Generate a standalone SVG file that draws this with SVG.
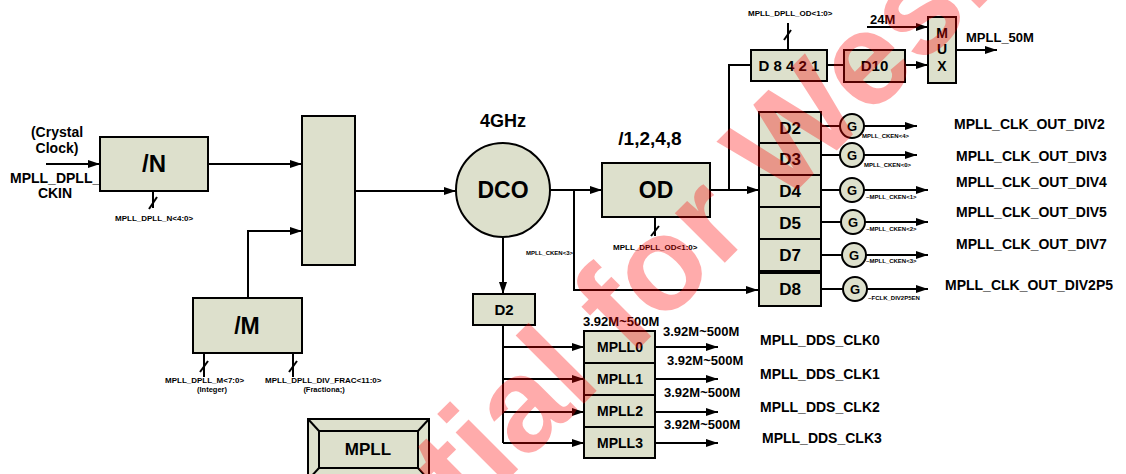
<svg xmlns="http://www.w3.org/2000/svg" width="1126" height="474" viewBox="0 0 1126 474">
<defs>
<marker id="ah" markerUnits="userSpaceOnUse" markerWidth="12" markerHeight="8" refX="12" refY="4" orient="auto">
<path d="M0,0 L12,4 L0,8 z" fill="#000"/>
</marker>
<style>
.bx{fill:#dde0cc;stroke:#000;stroke-width:2}
.ln{fill:none;stroke:#000;stroke-width:2}
.ar{fill:none;stroke:#000;stroke-width:2;marker-end:url(#ah)}
text{font-family:"Liberation Sans",Arial,sans-serif;font-weight:bold;fill:#000}
.c{text-anchor:middle}
.s6{font-size:6px}
.s8{font-size:8px}
.s13{font-size:13px}
.s14{font-size:14px}
.s15{font-size:15px}
.s17{font-size:17px}
.wm{font-size:133px;fill:#ff0000;fill-opacity:0.33}
</style>
</defs>
<rect width="1126" height="474" fill="#fff"/>

<g id="connectors">
<line class="ar" x1="46" y1="164" x2="100" y2="164"/>
<line class="ar" x1="208" y1="164" x2="302" y2="164"/>
<polyline class="ar" points="248,298 248,231 302,231"/>
<line class="ar" x1="355" y1="191" x2="456" y2="191"/>
<line class="ar" x1="550" y1="190" x2="602" y2="190"/>
<polyline class="ar" points="574,190 574,290 758,290"/>
<line class="ar" x1="710" y1="190" x2="759" y2="190"/>
<polyline class="ln" points="729,190 729,65 751,65"/>
<line class="ln" x1="827" y1="65" x2="844" y2="65"/>
<line class="ar" x1="905" y1="65" x2="928" y2="65"/>
<line class="ar" x1="867" y1="27" x2="928" y2="27"/>
<line class="ar" x1="956" y1="50" x2="997" y2="50"/>
<line class="ar" x1="503" y1="238" x2="503" y2="294"/>
<line class="ln" x1="503" y1="325" x2="503" y2="443"/>
<line class="ar" x1="503" y1="347" x2="584" y2="347"/>
<line class="ar" x1="503" y1="379" x2="584" y2="379"/>
<line class="ar" x1="503" y1="412" x2="584" y2="412"/>
<line class="ar" x1="503" y1="443" x2="584" y2="443"/>
<line class="ar" x1="655" y1="347" x2="718" y2="347"/>
<line class="ar" x1="655" y1="379" x2="718" y2="379"/>
<line class="ar" x1="655" y1="412" x2="718" y2="412"/>
<line class="ar" x1="655" y1="443" x2="718" y2="443"/>
<line class="ln" x1="821" y1="126" x2="840" y2="126"/>
<line class="ln" x1="821" y1="155" x2="840" y2="155"/>
<line class="ln" x1="821" y1="190" x2="840" y2="190"/>
<line class="ln" x1="821" y1="222" x2="841" y2="222"/>
<line class="ln" x1="821" y1="255" x2="842" y2="255"/>
<line class="ln" x1="821" y1="289" x2="843" y2="289"/>
<line class="ar" x1="864" y1="126" x2="917" y2="126"/>
<line class="ar" x1="864" y1="155" x2="917" y2="155"/>
<line class="ar" x1="864" y1="190" x2="928" y2="190"/>
<line class="ar" x1="865" y1="222" x2="928" y2="222"/>
<line class="ar" x1="866" y1="255" x2="928" y2="255"/>
<line class="ar" x1="867" y1="289" x2="928" y2="289"/>
<!-- bus ticks -->
<line class="ln" x1="153" y1="191" x2="153" y2="208"/>
<line class="ln" x1="149" y1="209" x2="157" y2="197"/>
<line class="ln" x1="204" y1="353" x2="204" y2="377"/>
<line class="ln" x1="200" y1="372" x2="208" y2="361"/>
<line class="ln" x1="293" y1="353" x2="293" y2="377"/>
<line class="ln" x1="289" y1="372" x2="297" y2="361"/>
<line class="ln" x1="655" y1="217" x2="655" y2="236"/>
<line class="ln" x1="651" y1="236" x2="659" y2="226"/>
<line class="ln" x1="788" y1="23" x2="788" y2="50"/>
<line class="ln" x1="784" y1="40" x2="791" y2="30"/>
</g>

<g id="input-label">
<text class="s14 c" x="57" y="137">(Crystal</text>
<text class="s14 c" x="57" y="153">Clock)</text>
<text class="s14" x="10" y="183">MPLL_DPLL_</text>
<text class="s14 c" x="55" y="198">CKIN</text>
</g>

<g id="divN">
<rect class="bx" x="100" y="137" width="108" height="54"/>
<text class="c" x="154" y="172" font-size="24">/N</text>
<text class="s8" x="115" y="221">MPLL_DPLL_N&lt;4:0&gt;</text>
</g>

<g id="pfd">
<rect class="bx" x="302" y="116" width="53" height="149"/>
</g>

<g id="divM">
<rect class="bx" x="193" y="298" width="109" height="55"/>
<text class="c" x="247" y="334" font-size="23">/M</text>
<text class="s8" x="165" y="383">MPLL_DPLL_M&lt;7:0&gt;</text>
<text class="c" x="212" y="392" font-size="7.5">(Integer)</text>
<text class="s8" x="265" y="383">MPLL_DPLL_DIV_FRAC&lt;11:0&gt;</text>
<text class="c" x="324" y="392" font-size="7.5">(Fractiona;)</text>
</g>

<g id="dco">
<circle class="bx" cx="503" cy="190" r="47"/>
<text class="c" x="503" y="198" font-size="23">DCO</text>
<text class="c" x="503" y="127" font-size="18">4GHz</text>
<text class="s6" x="526" y="255">MPLL_CKEN&lt;3&gt;</text>
</g>

<g id="od">
<rect class="bx" x="602" y="163" width="108" height="54"/>
<text class="c" x="656" y="198" font-size="23">OD</text>
<text class="c" x="650" y="145" font-size="19">/1,2,4,8</text>
<text class="s8" x="613" y="250">MPLL_DPLL_OD&lt;1:0&gt;</text>
</g>

<g id="d8421">
<rect class="bx" x="751" y="50" width="76" height="31"/>
<text class="s15 c" x="789" y="71">D 8 4 2 1</text>
<text class="s8" x="748" y="16">MPLL_DPLL_OD&lt;1:0&gt;</text>
</g>

<g id="d10">
<rect class="bx" x="844" y="50" width="61" height="32"/>
<text class="s15 c" x="874.5" y="71">D10</text>
</g>

<g id="mux">
<rect class="bx" x="928" y="17" width="28" height="66"/>
<text class="s14 c" x="942" y="38">M</text>
<text class="s14 c" x="942" y="54">U</text>
<text class="s14 c" x="942" y="71">X</text>
<text class="s13" x="870" y="24">24M</text>
<text class="s13" x="966" y="42">MPLL_50M</text>
</g>

<g id="div-stack">
<rect class="bx" x="759" y="112" width="62" height="31"/>
<rect class="bx" x="759" y="143" width="62" height="32"/>
<rect class="bx" x="759" y="175" width="62" height="32"/>
<rect class="bx" x="759" y="207" width="62" height="32"/>
<rect class="bx" x="759" y="239" width="62" height="32"/>
<text class="s17 c" x="790" y="134">D2</text>
<text class="s17 c" x="790" y="165">D3</text>
<text class="s17 c" x="790" y="197">D4</text>
<text class="s17 c" x="790" y="229">D5</text>
<text class="s17 c" x="790" y="261">D7</text>
</g>

<g id="d8">
<rect class="bx" x="759" y="273" width="62" height="33"/>
<text class="s17 c" x="790" y="295">D8</text>
</g>

<g id="gates">
<circle class="bx" cx="852" cy="126" r="12"/>
<circle class="bx" cx="852" cy="155" r="12"/>
<circle class="bx" cx="852" cy="190" r="12"/>
<circle class="bx" cx="853" cy="222" r="12"/>
<circle class="bx" cx="854" cy="255" r="12"/>
<circle class="bx" cx="855" cy="289" r="12"/>
<text class="s13 c" x="852" y="131">G</text>
<text class="s13 c" x="852" y="160">G</text>
<text class="s13 c" x="852" y="195">G</text>
<text class="s13 c" x="853" y="227">G</text>
<text class="s13 c" x="854" y="260">G</text>
<text class="s13 c" x="855" y="294">G</text>
<text class="s6" x="862" y="138">MPLL_CKEN&lt;4&gt;</text>
<text class="s6" x="864" y="167">MPLL_CKEN&lt;0&gt;</text>
<text class="s6" x="866" y="199">~MPLL_CKEN&lt;1&gt;</text>
<text class="s6" x="866" y="231">~MPLL_CKEN&lt;2&gt;</text>
<text class="s6" x="866" y="263">~MPLL_CKEN&lt;3&gt;</text>
<text class="s6" x="868" y="300">~FCLK_DIV2P5EN</text>
</g>

<g id="outputs">
<text class="s14" x="954" y="129">MPLL_CLK_OUT_DIV2</text>
<text class="s14" x="956" y="161">MPLL_CLK_OUT_DIV3</text>
<text class="s14" x="956" y="187">MPLL_CLK_OUT_DIV4</text>
<text class="s14" x="956" y="217">MPLL_CLK_OUT_DIV5</text>
<text class="s14" x="956" y="249">MPLL_CLK_OUT_DIV7</text>
<text class="s14" x="945" y="290">MPLL_CLK_OUT_DIV2P5</text>
</g>

<g id="d2">
<rect class="bx" x="473" y="294" width="62" height="31"/>
<text class="s15 c" x="504" y="315">D2</text>
</g>

<g id="mpll-stack">
<rect class="bx" x="584" y="331" width="71" height="32"/>
<rect class="bx" x="584" y="363" width="71" height="32"/>
<rect class="bx" x="584" y="395" width="71" height="32"/>
<rect class="bx" x="584" y="427" width="71" height="31"/>
<text class="s14 c" x="620" y="352">MPLL0</text>
<text class="s14 c" x="620" y="384">MPLL1</text>
<text class="s14 c" x="620" y="416">MPLL2</text>
<text class="s14 c" x="620" y="448">MPLL3</text>
<text class="s13" x="583" y="326">3.92M~500M</text>
<text class="s13" x="663" y="336">3.92M~500M</text>
<text class="s13" x="667" y="365">3.92M~500M</text>
<text class="s13" x="664" y="397">3.92M~500M</text>
<text class="s13" x="664" y="429">3.92M~500M</text>
<text class="s14" x="760" y="345">MPLL_DDS_CLK0</text>
<text class="s14" x="760" y="379">MPLL_DDS_CLK1</text>
<text class="s14" x="760" y="412">MPLL_DDS_CLK2</text>
<text class="s14" x="762" y="443">MPLL_DDS_CLK3</text>
</g>

<g id="mpll-block">
<rect class="bx" x="308" y="419" width="121" height="61"/>
<rect class="bx" x="319" y="431" width="99" height="37"/>
<line class="ln" x1="308" y1="419" x2="319" y2="431"/>
<line class="ln" x1="429" y1="419" x2="418" y2="431"/>
<line class="ln" x1="308" y1="480" x2="319" y2="468"/>
<line class="ln" x1="429" y1="480" x2="418" y2="468"/>
<text class="s17 c" x="368" y="455">MPLL</text>
</g>

<text class="wm" transform="translate(467.5,520) rotate(-45)">tial for Wesle</text>
</svg>
